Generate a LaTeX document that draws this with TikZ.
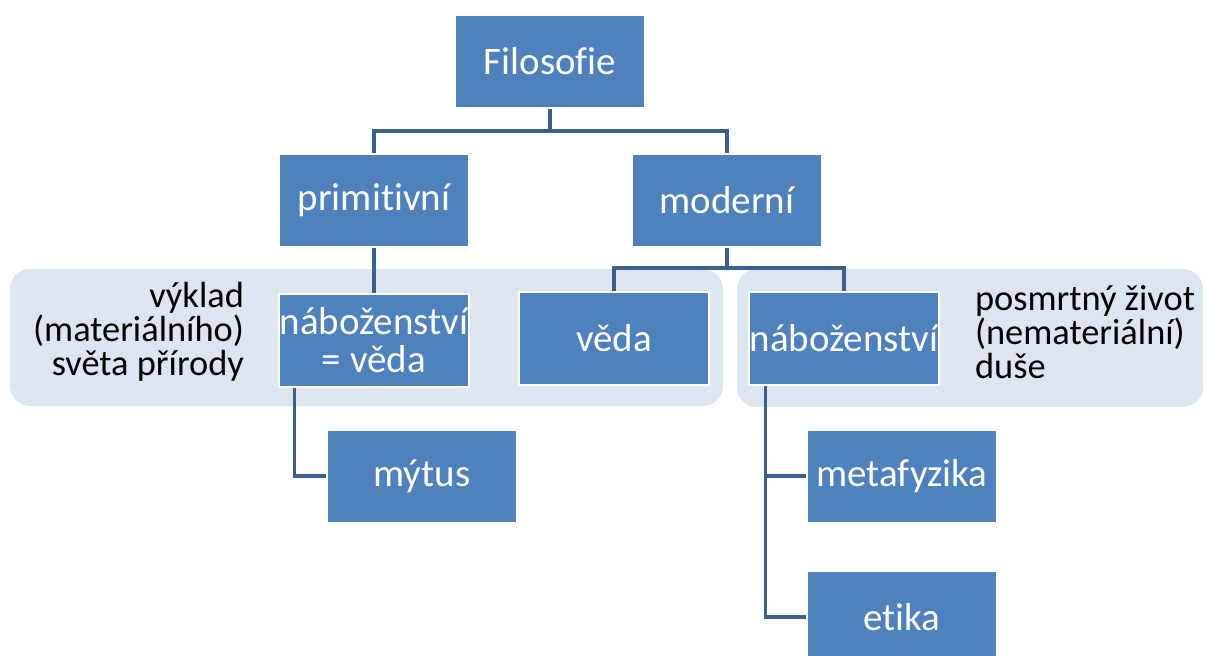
\documentclass[tikz,border=0pt]{standalone}
\usepackage{fontspec}
\setmainfont{Carlito}[Ligatures=NoCommon]
\usetikzlibrary{positioning,backgrounds}

\definecolor{boxblue}{RGB}{79,129,189}
\definecolor{linkblue}{RGB}{60,96,141}
\definecolor{panelgray}{RGB}{221,229,241}

\begin{document}
\begin{tikzpicture}[
  x=0.5pt, y=-0.5pt,
  box/.style={draw=white, line width=1pt, fill=boxblue, text=white, align=center,
    minimum width=95pt, minimum height=46.5pt, inner sep=0.5pt,
    font=\fontsize{19.5}{19}\selectfont},
  link/.style={draw=linkblue, line width=1.75pt},
  panel/.style={fill=panelgray, rounded corners=10pt},
  note/.style={font=\fontsize{18.2}{17}\selectfont}
]
\useasboundingbox (0,0) rectangle (1207,655);

\node[box] (filo) at (550,61) {Filosofie};
\node[box] (prim) at (374,200) {primitivní};
\node[box] (mod) at (727,200) {moderní};

\node[box, below=22.5pt of prim] (nabL) {náboženství\\= věda};
\node[box] (veda) at (614,338) {věda};
\node[box] (nabR) at (844,338) {náboženství};

\node[box] (mytus) at (422,476) {mýtus};
\node[box] (meta) at (902,476) {metafyzika};
\node[box, below=23pt of meta] (etika) {etika};

\node[note, align=right, anchor=east] (vyklad) at (251,332)
  {výklad\\(materiálního)\\světa přírody};
\node[note, align=left, anchor=west] (posmrt) at (968,332)
  {posmrtný život\\(nemateriální)\\duše};

\coordinate (fork1) at (550,131);
\coordinate (fork2) at (727,268);

\begin{scope}[on background layer]
  \fill[panel] (10,269) rectangle (723,406);
  \fill[panel] (737,269) rectangle (1203,407);
  \draw[link] (filo) -- (fork1) -| (prim);
  \draw[link] (fork1) -| (mod);
  \draw[link] (prim) -- (nabL);
  \draw[link] (mod) -- (fork2) -| (veda);
  \draw[link] (fork2) -| (nabR);
  \draw[link] ([xshift=8.5pt]nabL.south west) |- (mytus);
  \draw[link] ([xshift=9pt]nabR.south west) |- (meta);
  \draw[link] ([xshift=9pt]nabR.south west) |- (etika);
\end{scope}
\end{tikzpicture}
\end{document}
